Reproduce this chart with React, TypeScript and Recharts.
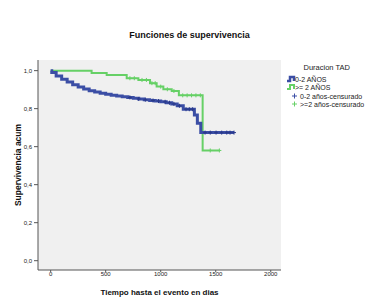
import React from 'react';
import { LineChart, Line, XAxis, YAxis, CartesianGrid } from 'recharts';

// 0-2 AÑOS: tiempos de evento y supervivencia acumulada
const blueEventTimes = [0, 10, 50, 100, 150, 200, 250, 300, 350, 400, 450, 500, 550, 600, 650, 700, 750, 800, 850, 900, 950, 1000, 1050, 1100, 1150, 1205, 1306, 1333, 1364];
const blueEventSurv = [1.0, 0.99, 0.972, 0.955, 0.94, 0.926, 0.914, 0.903, 0.894, 0.887, 0.881, 0.876, 0.871, 0.867, 0.863, 0.859, 0.855, 0.851, 0.847, 0.843, 0.84, 0.836, 0.831, 0.825, 0.815, 0.797, 0.767, 0.723, 0.674];
const blueCensTimes = [720, 800, 860, 930, 980, 1040, 1080, 1120, 1170, 1230, 1260, 1290, 1403, 1450, 1503, 1554, 1600, 1630, 1666];

// >= 2 AÑOS
const greenEventTimes = [0, 372, 509, 691, 797, 903, 963, 1024, 1100, 1165, 1381];
const greenEventSurv = [1.0, 0.987, 0.977, 0.96, 0.951, 0.934, 0.916, 0.902, 0.893, 0.87, 0.58];
const greenCensTimes = [720, 760, 830, 870, 920, 950, 1000, 1060, 1120, 1200, 1240, 1280, 1320, 1360, 1450, 1533];

const xTicks = [0, 500, 1000, 1500, 2000];
const yTicks = [0, 0.2, 0.4, 0.6, 0.8, 1.0];

const BLUE = '#3b4ea5';
const GREEN = '#66d066';
const FONT = '"Liberation Sans", Arial, sans-serif';

interface KmPoint {
  t: number;
  s: number;
  cens: boolean;
}

// arma la curva escalonada con los puntos censurados sobre ella
const buildCurve = (times: number[], surv: number[], cens: number[]): KmPoint[] => {
  const pts: KmPoint[] = times.map((t, i) => ({ t, s: surv[i], cens: false }));
  cens.forEach((t) => {
    let s = surv[0];
    times.forEach((et, i) => {
      if (et <= t) s = surv[i];
    });
    pts.push({ t, s, cens: true });
  });
  return pts.sort((a, b) => a.t - b.t);
};

const blueData = buildCurve(blueEventTimes, blueEventSurv, blueCensTimes);
const greenData = buildCurve(greenEventTimes, greenEventSurv, greenCensTimes);

const makeCross = (color: string) => (props: any) => {
  const { cx, cy, payload, index } = props;
  if (!payload || !payload.cens || cx == null || cy == null) return <g key={`n-${index}`} />;
  return (
    <path
      key={`c-${index}`}
      d={`M${cx - 2},${cy}H${cx + 2}M${cx},${cy - 2}V${cy + 2}`}
      stroke={color}
      strokeWidth={1}
      fill="none"
    />
  );
};

const Legend = () => (
  <svg width={93} height={50} style={{ position: 'absolute', left: 286, top: 60 }}>
    <text x={40.7} y={10} textAnchor="middle" fontSize={7.5} fontFamily={FONT} fill="#222">
      Duracion TAD
    </text>
    <path d="M1,21H4V17H8V21" stroke={BLUE} strokeWidth={2.5} fill="none" />
    <text x={9} y={22} fontSize={7} fontFamily={FONT} fill="#222">0-2 AÑOS</text>
    <path d="M1,29H4V25H8V29" stroke={GREEN} strokeWidth={2} fill="none" />
    <text x={9} y={30} fontSize={7} fontFamily={FONT} fill="#222">&gt;= 2 AÑOS</text>
    <path d="M6,36H11M8.5,33.5V38.5" stroke={BLUE} strokeWidth={1} />
    <text x={14} y={38.5} fontSize={7} fontFamily={FONT} fill="#222">0-2 años-censurado</text>
    <path d="M6,44H11M8.5,41.5V46.5" stroke={GREEN} strokeWidth={1} />
    <text x={14} y={46.5} fontSize={7} fontFamily={FONT} fill="#222">&gt;=2 años-censurado</text>
  </svg>
);

const App: React.FC = () => {
  return (
    <div style={{ position: 'absolute', left: 0, top: 0, width: 379, height: 304, background: '#fff', fontFamily: FONT }}>
      <div
        style={{
          position: 'absolute',
          left: 0,
          top: 30,
          width: 379,
          textAlign: 'center',
          fontSize: 9,
          fontWeight: 'bold',
          color: '#111',
          lineHeight: '11px',
        }}
      >
        Funciones de supervivencia
      </div>
      <LineChart width={379} height={304} margin={{ top: 60, right: 98, bottom: 0, left: 0 }}>
        <CartesianGrid fill="#f0f0f0" horizontal={false} vertical={false} />
        <XAxis
          type="number"
          dataKey="t"
          domain={[-115, 2093]}
          allowDataOverflow
          ticks={xTicks}
          height={34}
          tickSize={2}
          tickMargin={0}
          tick={{ fontSize: 6, fill: '#222', fontFamily: FONT }}
          axisLine={{ stroke: '#555' }}
          tickLine={{ stroke: '#555' }}
          label={{
            value: 'Tiempo hasta el evento en dias',
            position: 'insideBottom',
            offset: 9,
            style: { fontSize: 8, fontWeight: 'bold', fill: '#111', fontFamily: FONT },
          }}
        />
        <XAxis
          xAxisId="top"
          orientation="top"
          type="number"
          domain={[-115, 2093]}
          height={0}
          tick={false}
          tickLine={false}
          axisLine={{ stroke: '#555' }}
        />
        <YAxis
          type="number"
          domain={[-0.049, 1.056]}
          allowDataOverflow
          ticks={yTicks}
          width={38}
          tickSize={4}
          tickMargin={2}
          tickFormatter={(v: number) => v.toFixed(1).replace('.', ',')}
          tick={{ fontSize: 6, fill: '#222', fontFamily: FONT }}
          axisLine={{ stroke: '#555' }}
          tickLine={{ stroke: '#555' }}
          label={{
            value: 'Supervivencia acum',
            angle: -90,
            position: 'center',
            dx: -1,
            style: { fontSize: 8.5, fontWeight: 'bold', fill: '#111', fontFamily: FONT, textAnchor: 'middle' },
          }}
        />
        <YAxis
          yAxisId="right"
          orientation="right"
          width={0}
          tick={false}
          tickLine={false}
          axisLine={{ stroke: '#555' }}
        />
        <Line
          data={greenData}
          dataKey="s"
          type="stepAfter"
          stroke={GREEN}
          strokeWidth={2}
          dot={makeCross(GREEN)}
          activeDot={false}
          isAnimationActive={false}
        />
        <Line
          data={blueData}
          dataKey="s"
          type="stepAfter"
          stroke={BLUE}
          strokeWidth={3}
          dot={makeCross('#2a3a8a')}
          activeDot={false}
          isAnimationActive={false}
        />
      </LineChart>
      <Legend />
    </div>
  );
};

export default App;
